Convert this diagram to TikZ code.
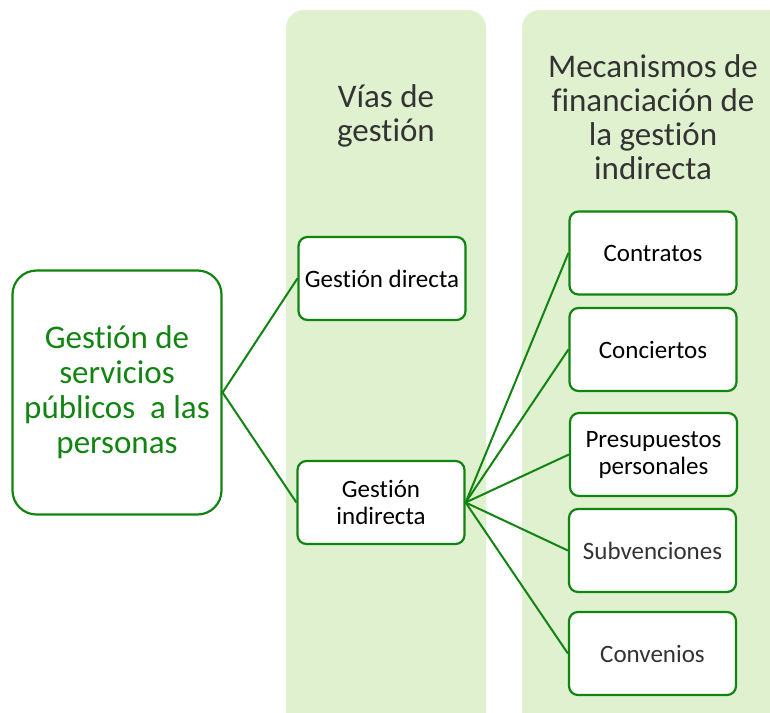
\documentclass[tikz,border=0pt]{standalone}
\usepackage{fontspec}
\setmainfont{Carlito}[Ligatures=NoCommon]
\definecolor{panelgreen}{HTML}{E0F1D0}
\definecolor{linegreen}{HTML}{128412}
\definecolor{textgrey}{HTML}{333333}
\tikzset{
  panel/.style={fill=panelgreen, draw=none, rounded corners=18pt},
  itembox/.style={draw=linegreen, line width=2.2pt, fill=white, rounded corners=9pt,
    minimum width=167pt, minimum height=83pt, align=center, text=black,
    font=\fontsize{25}{27}\selectfont, inner sep=2pt},
  mainbox/.style={draw=linegreen, line width=2.2pt, fill=white, rounded corners=24pt,
    minimum width=209pt, minimum height=244pt, align=center, text=linegreen,
    font=\fontsize{33}{35}\selectfont, inner sep=2pt},
  title/.style={align=center, text=textgrey, font=\fontsize{33}{34}\selectfont},
  conn/.style={draw=linegreen, line width=2pt}
}
\begin{document}
\begin{tikzpicture}[x=1pt,y=1pt]
\useasboundingbox (0,0) rectangle (770,-712);
\clip (0,0) rectangle (770,-712);
\fill[panel] (286,-10) rectangle (486,-740);
\fill[panel] (522,-10) rectangle (800,-740);
\node[title] (t1) at (386,-116) {Vías de\\gestión};
\node[title] (t2) at (653,-117) {Mecanismos de\\financiación de\\la gestión\\indirecta};
\node[mainbox] (main) at (117,-392.5) {Gestión de\\servicios\\públicos\ \ a las\\personas};
\node[itembox] (gd) at (382,-278.5) {Gestión directa};
\node[itembox] (gi) at (381,-502.5) {Gestión\\indirecta};
\node[itembox] (c1) at (653,-253) {Contratos};
\node[itembox] (c2) at (653,-349.5) {Conciertos};
\node[itembox] (c3) at (653.5,-454.5) {Presupuestos\\personales};
\node[itembox, text=textgrey] (c4) at (652.5,-550.5) {Subvenciones};
\node[itembox, text=textgrey] (c5) at (652.5,-653.5) {Convenios};
\draw[conn] (main.east) -- (gd.west);
\draw[conn] (main.east) -- (gi.west);
\foreach \n in {c1,c2,c3,c4,c5}{\draw[conn] (gi.east) -- (\n.west);}
\end{tikzpicture}
\end{document}
